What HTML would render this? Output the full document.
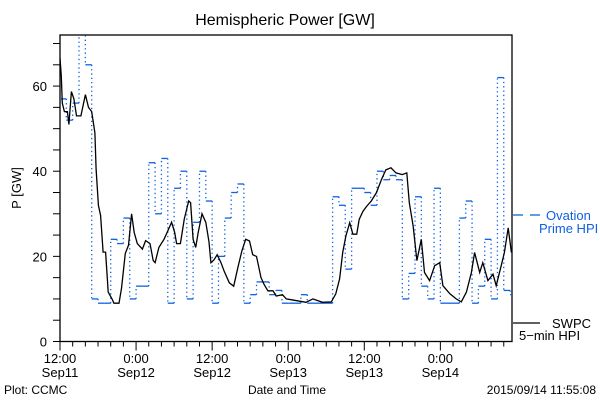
<!DOCTYPE html>
<html><head><meta charset="utf-8"><style>
body{margin:0;background:#fff;width:600px;height:400px;overflow:hidden}
svg{display:block}
text{font-family:"Liberation Sans",sans-serif}
</style></head><body>
<svg id="chart" width="600" height="400">
<text x="285" y="25" text-anchor="middle" style="font-size:16px">Hemispheric Power [GW]</text>
<text transform="translate(21,188) rotate(-90)" text-anchor="middle" style="font-size:13px">P [GW]</text>
<text x="287" y="394" text-anchor="middle" style="font-size:12px">Date and Time</text>
<text x="4" y="394" style="font-size:12px">Plot: CCMC</text>
<text x="596" y="394" text-anchor="end" style="font-size:12px">2015/09/14 11:55:08</text>
<g id="axes"></g>
<g id="series"></g>
<g>
<line x1="513" y1="215" x2="523" y2="215" stroke="#1060e0" stroke-width="1.3"/>
<line x1="530" y1="215" x2="540" y2="215" stroke="#1060e0" stroke-width="1.3"/>
<text x="546" y="220" fill="#1060e0" style="font-size:13px">Ovation</text>
<text x="539" y="233" fill="#1060e0" style="font-size:13px">Prime HPI</text>
<line x1="513" y1="323" x2="540" y2="323" stroke="#000" stroke-width="1.3"/>
<text x="552" y="328" style="font-size:13px">SWPC</text>
<text x="519" y="340" style="font-size:13px">5−min HPI</text>
</g>
</svg>
<script>
const yTicks=[0,20,40,60];
const xTickLabels=[["12:00","Sep11"],["0:00","Sep12"],["12:00","Sep12"],["0:00","Sep13"],["12:00","Sep13"],["0:00","Sep14"]];
const ovationHourly=[57,52,56,80,65,10,9,9,24,23,29,10,13,13,42,30,43,9,36,40,10,28,40,33,9,20,29,35,37,9,11,14,14,11,12,9,9,9,11,9,9,9,9,34,32,17,36,36,35,32,40,38,39,38,10,16,34,13,10,36,9,9,9,29,33,9,13,24,10,62,12,11];
const swpcHours=[0,0.2,0.36,0.7,1.16,1.4,1.8,2.2,2.6,3.3,4.0,4.5,5.0,5.5,5.7,6.05,6.4,6.8,7.2,7.6,8.2,8.5,9.3,9.7,10.3,10.8,11.3,11.7,12.2,13.0,13.5,14.2,14.7,15,15.6,16.4,16.9,17.6,18.1,18.4,19.0,19.6,20.3,20.6,21.0,21.4,21.8,22.4,23.0,23.5,23.8,24.3,24.8,25.4,25.9,26.7,27.4,28.0,28.7,29.3,29.9,30.4,31.0,31.7,32.2,32.8,33.6,34.1,35.1,35.7,36.9,38.8,39.9,41.4,42.8,43.5,44.1,44.6,45.1,45.7,46.2,46.8,47.2,47.8,48.4,49.1,49.9,50.7,51.4,52.2,53.0,54.0,54.7,55.1,55.7,56.3,57.0,57.5,58.3,59.1,59.9,60.4,61.5,62.5,63.3,64.1,64.9,65.4,66.2,66.7,67.5,68.3,68.8,69.6,70.1,70.7,71.2];
const swpcValues=[66.6,62.3,56,54,54,51,58.7,57,53,53,58,55,54,49,40.5,32,29.6,21,21,11.6,10,9,9,12.5,20.7,22.6,30,25.6,23,21.7,23.7,23,19,18.5,22.1,24,25.6,28,25.6,23,23,28.8,33,32.6,24,22.1,25.6,30,28,23.4,18.5,19.2,20.4,18.5,16.5,13.8,13,17,21.3,24,23.6,20.4,20,15,13.4,11.9,11.9,10.7,11,10,9.7,9.2,10,9.2,9.3,11.2,14.7,20.9,24.8,27.9,25.2,25.2,28.7,30.6,31.8,33,34.9,38,40.3,40.8,39.6,39.2,39.6,32.6,27.2,19,24,16.2,14.3,17.8,18.5,13.1,11.2,10,9.3,11.6,16.2,20.9,16.2,18.5,14.3,15.8,13.1,17.8,20.9,26.7,20.9];

const L=60,R=512,T=35,B=341.5,HMAX=71.3,VMAX=72;
const xs=h=>L+h*(R-L)/HMAX;
const ys=v=>B-v*(B-T)/VMAX;
const NS="http://www.w3.org/2000/svg";
function mk(tag,attrs,parent){const e=document.createElementNS(NS,tag);for(const k in attrs)e.setAttribute(k,attrs[k]);parent.appendChild(e);return e;}
const axes=document.getElementById('axes'),ser=document.getElementById('series');

const clip=mk('clipPath',{id:'pc'},mk('defs',{},axes));
mk('rect',{x:L,y:T,width:R-L,height:B-T},clip);

const frame=mk('rect',{x:L,y:T,width:R-L,height:B-T,fill:'none',stroke:'#000','stroke-width':1.3},axes);



for(let v=0;v<=70;v+=5){
  const t=mk('line',{x1:L-7,x2:L,y1:ys(v),y2:ys(v),stroke:'#000'},axes);
  
  
}
yTicks.forEach(v=>{
  const t=mk('text',{x:L-13,y:ys(v)+5,'text-anchor':'end',style:'font-size:13px'},axes);t.textContent=v;
  
  
});
for(let h=0;h<=HMAX;h+=2){
  const t=mk('line',{x1:xs(h),x2:xs(h),y1:B,y2:B+(h%12===0?9:5),stroke:'#000'},axes);
  
  
}
xTickLabels.forEach((lb,i)=>{
  const t=mk('text',{x:xs(i*12),y:363,'text-anchor':'middle',style:'font-size:13px'},axes);t.textContent=lb[0];
  
  
  const d=mk('text',{x:xs(i*12),y:377,'text-anchor':'middle',style:'font-size:13px'},axes);d.textContent=lb[1];
  
  
});

const g=mk('g',{'clip-path':'url(#pc)'},ser);
ovationHourly.forEach((v,i)=>{
  const x1=xs(i),x2=xs(Math.min(i+1,HMAX));
  const s=mk('line',{x1:x1,x2:x2,y1:ys(v),y2:ys(v),stroke:'#1060e0','stroke-width':1.3},g);
  
  
  if(i>0){
    const c=mk('line',{x1:x1,x2:x1,y1:ys(ovationHourly[i-1]),y2:ys(v),stroke:'#1060e0','stroke-width':1.3,'stroke-dasharray':'1.3 3'},g);
    
    
  }
});
const pts=swpcHours.map((h,i)=>xs(h).toFixed(1)+','+ys(swpcValues[i]).toFixed(1)).join(' ');
const pl=mk('polyline',{points:pts,fill:'none',stroke:'#000','stroke-width':1.3},g);


</script>
</body></html>
